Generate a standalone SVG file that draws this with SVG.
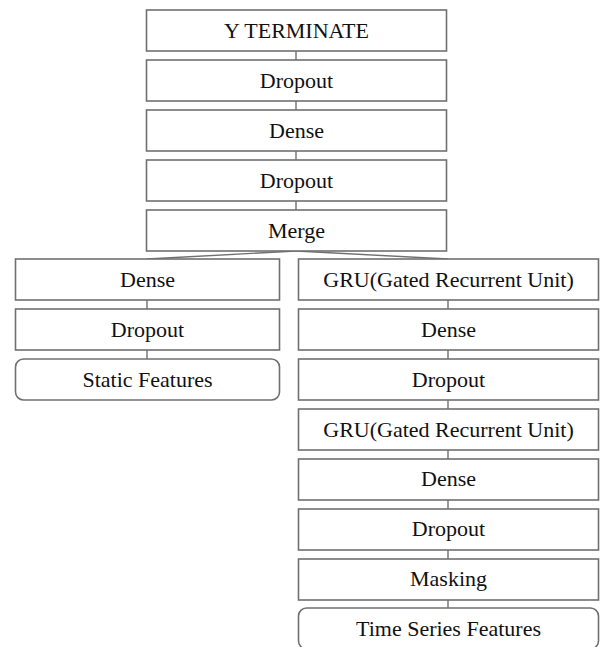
<svg xmlns="http://www.w3.org/2000/svg" width="600" height="647" viewBox="0 0 600 647" font-family="Liberation Serif, Times New Roman, serif">
<style>
.b{fill:#fff;stroke:#707070;stroke-width:1.6}
.t{font-size:22px;fill:#111;text-anchor:middle}
.c{stroke:#707070;stroke-width:1.4;fill:none}
</style>
<rect width="600" height="647" fill="#fff"/>
<g id="connectors">
<line class="c" x1="296" y1="51" x2="296" y2="60"/>
<line class="c" x1="296" y1="101" x2="296" y2="110"/>
<line class="c" x1="296" y1="151" x2="296" y2="160"/>
<line class="c" x1="296" y1="201" x2="296" y2="210"/>
<line class="c" x1="296" y1="251" x2="147" y2="259"/>
<line class="c" x1="296" y1="251" x2="448" y2="259"/>
<line class="c" x1="147" y1="300" x2="147" y2="309"/>
<line class="c" x1="147" y1="350" x2="147" y2="359"/>
<line class="c" x1="448" y1="300" x2="448" y2="309"/>
<line class="c" x1="448" y1="350" x2="448" y2="359"/>
<line class="c" x1="448" y1="400" x2="448" y2="409"/>
<line class="c" x1="448" y1="450" x2="448" y2="459"/>
<line class="c" x1="448" y1="500" x2="448" y2="509"/>
<line class="c" x1="448" y1="550" x2="448" y2="559"/>
<line class="c" x1="448" y1="600" x2="448" y2="608"/>
</g>
<g id="y-terminate"><rect class="b" x="146.5" y="10" width="300" height="41"/><text class="t" font-family="Liberation Serif" x="296.5" y="38">Y TERMINATE</text></g>
<g id="dropout1"><rect class="b" x="146.5" y="60" width="300" height="41"/><text class="t" font-family="Liberation Serif" x="296.5" y="88">Dropout</text></g>
<g id="dense1"><rect class="b" x="146.5" y="110" width="300" height="41"/><text class="t" font-family="Liberation Serif" x="296.5" y="138">Dense</text></g>
<g id="dropout2"><rect class="b" x="146.5" y="160" width="300" height="41"/><text class="t" font-family="Liberation Serif" x="296.5" y="188">Dropout</text></g>
<g id="merge"><rect class="b" x="146.5" y="210" width="300" height="41"/><text class="t" font-family="Liberation Serif" x="296.5" y="238">Merge</text></g>
<g id="dense-static"><rect class="b" x="15.5" y="259" width="264" height="41"/><text class="t" font-family="Liberation Serif" x="147.5" y="287">Dense</text></g>
<g id="dropout-static"><rect class="b" x="15.5" y="309" width="264" height="41"/><text class="t" font-family="Liberation Serif" x="147.5" y="337">Dropout</text></g>
<g id="static-features"><rect class="b" x="15.5" y="359" width="264" height="41" rx="8"/><text class="t" font-family="Liberation Serif" x="147.5" y="387">Static Features</text></g>
<g id="gru1"><rect class="b" x="298.5" y="259" width="300" height="41"/><text class="t" font-family="Liberation Serif" x="448.5" y="287">GRU(Gated Recurrent Unit)</text></g>
<g id="dense-ts1"><rect class="b" x="298.5" y="309" width="300" height="41"/><text class="t" font-family="Liberation Serif" x="448.5" y="337">Dense</text></g>
<g id="dropout-ts1"><rect class="b" x="298.5" y="359" width="300" height="41"/><text class="t" font-family="Liberation Serif" x="448.5" y="387">Dropout</text></g>
<g id="gru2"><rect class="b" x="298.5" y="409" width="300" height="41"/><text class="t" font-family="Liberation Serif" x="448.5" y="437">GRU(Gated Recurrent Unit)</text></g>
<g id="dense-ts2"><rect class="b" x="298.5" y="459" width="300" height="41"/><text class="t" font-family="Liberation Serif" x="448.5" y="486">Dense</text></g>
<g id="dropout-ts2"><rect class="b" x="298.5" y="509" width="300" height="41"/><text class="t" font-family="Liberation Serif" x="448.5" y="536">Dropout</text></g>
<g id="masking"><rect class="b" x="298.5" y="559" width="300" height="41"/><text class="t" font-family="Liberation Serif" x="448.5" y="586">Masking</text></g>
<g id="time-series-features"><rect class="b" x="298.5" y="608" width="300" height="41" rx="8"/><text class="t" font-family="Liberation Serif" x="448.5" y="636">Time Series Features</text></g>
</svg>
